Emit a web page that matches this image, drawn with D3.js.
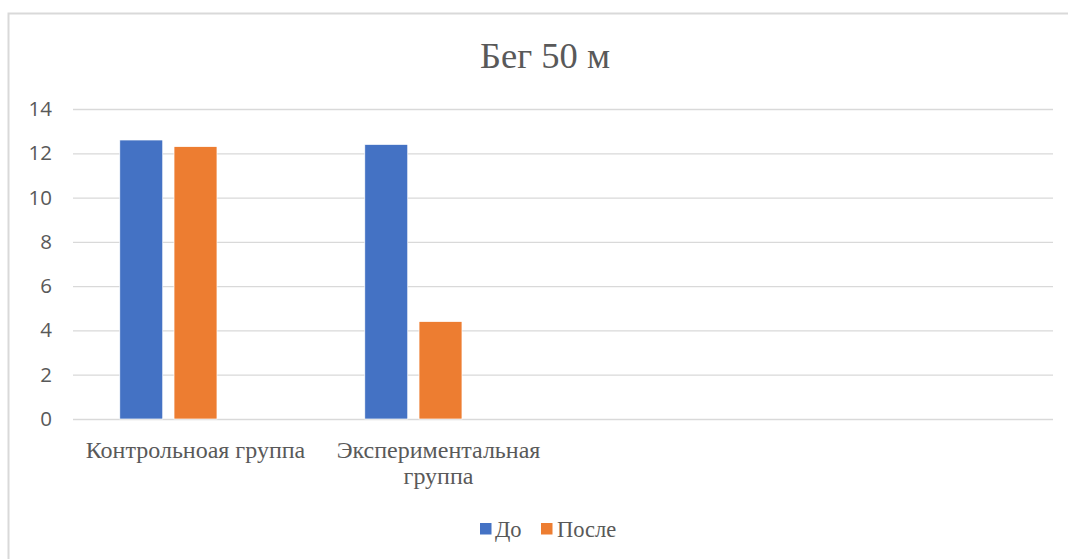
<!DOCTYPE html>
<html>
<head>
<meta charset="utf-8">
<script src="https://cdn.jsdelivr.net/npm/d3@7"></script>
<style>
html,body{margin:0;padding:0;background:#fff;}
svg{display:block;}
</style>
</head>
<body>
<svg id="chart" width="1068" height="559"></svg>
<script>
const title = "Бег 50 м";
const categories = ["Контрольноая группа", "Экспериментальная группа", "", ""];
const seriesNames = ["До", "После", "Ряд 3"];
const seriesDo = [12.6, 12.4, null, null];
const seriesPosle = [12.3, 4.4, null, null];
const series3 = [null, null, null, null];
const legendNames = ["До", "После"];
const yTicks = [0, 2, 4, 6, 8, 10, 12, 14];
const colors = ["#4472C4", "#ED7D31", "#A5A5A5"];

const seriesValues = [seriesDo, seriesPosle, series3];

const svg = d3.select("#chart");

// chart area border
svg.append("rect")
  .attr("x", 8.5).attr("y", 13.5)
  .attr("width", 1080).attr("height", 560)
  .attr("fill", "#fff")
  .attr("stroke", "#d9d9d9").attr("stroke-width", 2);

const plot = {left: 73, right: 1053, top: 109, bottom: 419};

const x0 = d3.scaleBand().domain(d3.range(categories.length))
  .range([plot.left, plot.right]).paddingInner(0).paddingOuter(0);
const x1 = d3.scaleBand().domain(seriesNames)
  .range([0, x0.bandwidth()]).paddingInner(0.208).paddingOuter(0.8625);
const y = d3.scaleLinear().domain([0, 14]).range([plot.bottom, plot.top]);

// gridlines
const yAxis = d3.axisLeft(y).tickValues(yTicks).tickSize(-(plot.right - plot.left)).tickPadding(21);
const gy = svg.append("g").attr("transform", `translate(${plot.left},0)`).call(yAxis);
gy.select(".domain").remove();
gy.selectAll(".tick line").attr("stroke", "#d9d9d9").attr("stroke-width", 1.3);
gy.selectAll(".tick text")
  .attr("fill", "#595959")
  .attr("font-family", "'Open Sans', 'Liberation Sans', sans-serif")
  .attr("font-size", "20.5px");

// bars
seriesNames.forEach((name, si) => {
  const vals = seriesValues[si];
  svg.append("g").selectAll("rect")
    .data(vals.map((v, i) => ({v, i})).filter(d => d.v != null))
    .join("rect")
    .attr("x", d => x0(d.i) + x1(name))
    .attr("width", x1.bandwidth())
    .attr("y", d => y(d.v))
    .attr("height", d => y(0) - y(d.v))
    .attr("fill", colors[si])
    .attr("stroke", "#fff").attr("stroke-width", 0.7);
});

// category labels
const xAxis = d3.axisBottom(x0).tickSize(0).tickPadding(0).tickFormat(i => categories[i]);
const gx = svg.append("g").attr("transform", `translate(0,${plot.bottom})`).call(xAxis);
gx.select(".domain").remove();
gx.selectAll(".tick text").each(function(i) {
  const t = d3.select(this);
  const label = categories[i];
  t.text(null)
    .attr("fill", "#595959")
    .attr("font-family", "'Liberation Serif', 'Times New Roman', serif")
    .attr("font-size", "24px")
    .attr("y", 0).attr("dy", null);
  const lines = (i === 1) ? ["Экспериментальная", "группа"] : [label];
  lines.forEach((ln, k) => {
    t.append("tspan").attr("x", i === 1 ? -2 : 0).attr("y", 38.5 + k * 26).text(ln);
  });
});

// title
svg.append("text")
  .attr("x", 545).attr("y", 68)
  .attr("text-anchor", "middle")
  .attr("fill", "#595959")
  .attr("font-family", "'Liberation Serif', 'Times New Roman', serif")
  .attr("font-size", "36.5px")
  .text(title);

// legend
const legend = svg.append("g");
const legendPos = [{sx: 480, tx: 495}, {sx: 541, tx: 557}];
legendNames.forEach((n, i) => {
  legend.append("rect")
    .attr("x", legendPos[i].sx).attr("y", 523)
    .attr("width", 11.5).attr("height", 11.5)
    .attr("fill", colors[i]);
  legend.append("text")
    .attr("x", legendPos[i].tx).attr("y", 536.5)
    .attr("fill", "#595959")
    .attr("font-family", "'Liberation Serif', 'Times New Roman', serif")
    .attr("font-size", "22.5px")
    .text(n);
});
</script>
</body>
</html>
